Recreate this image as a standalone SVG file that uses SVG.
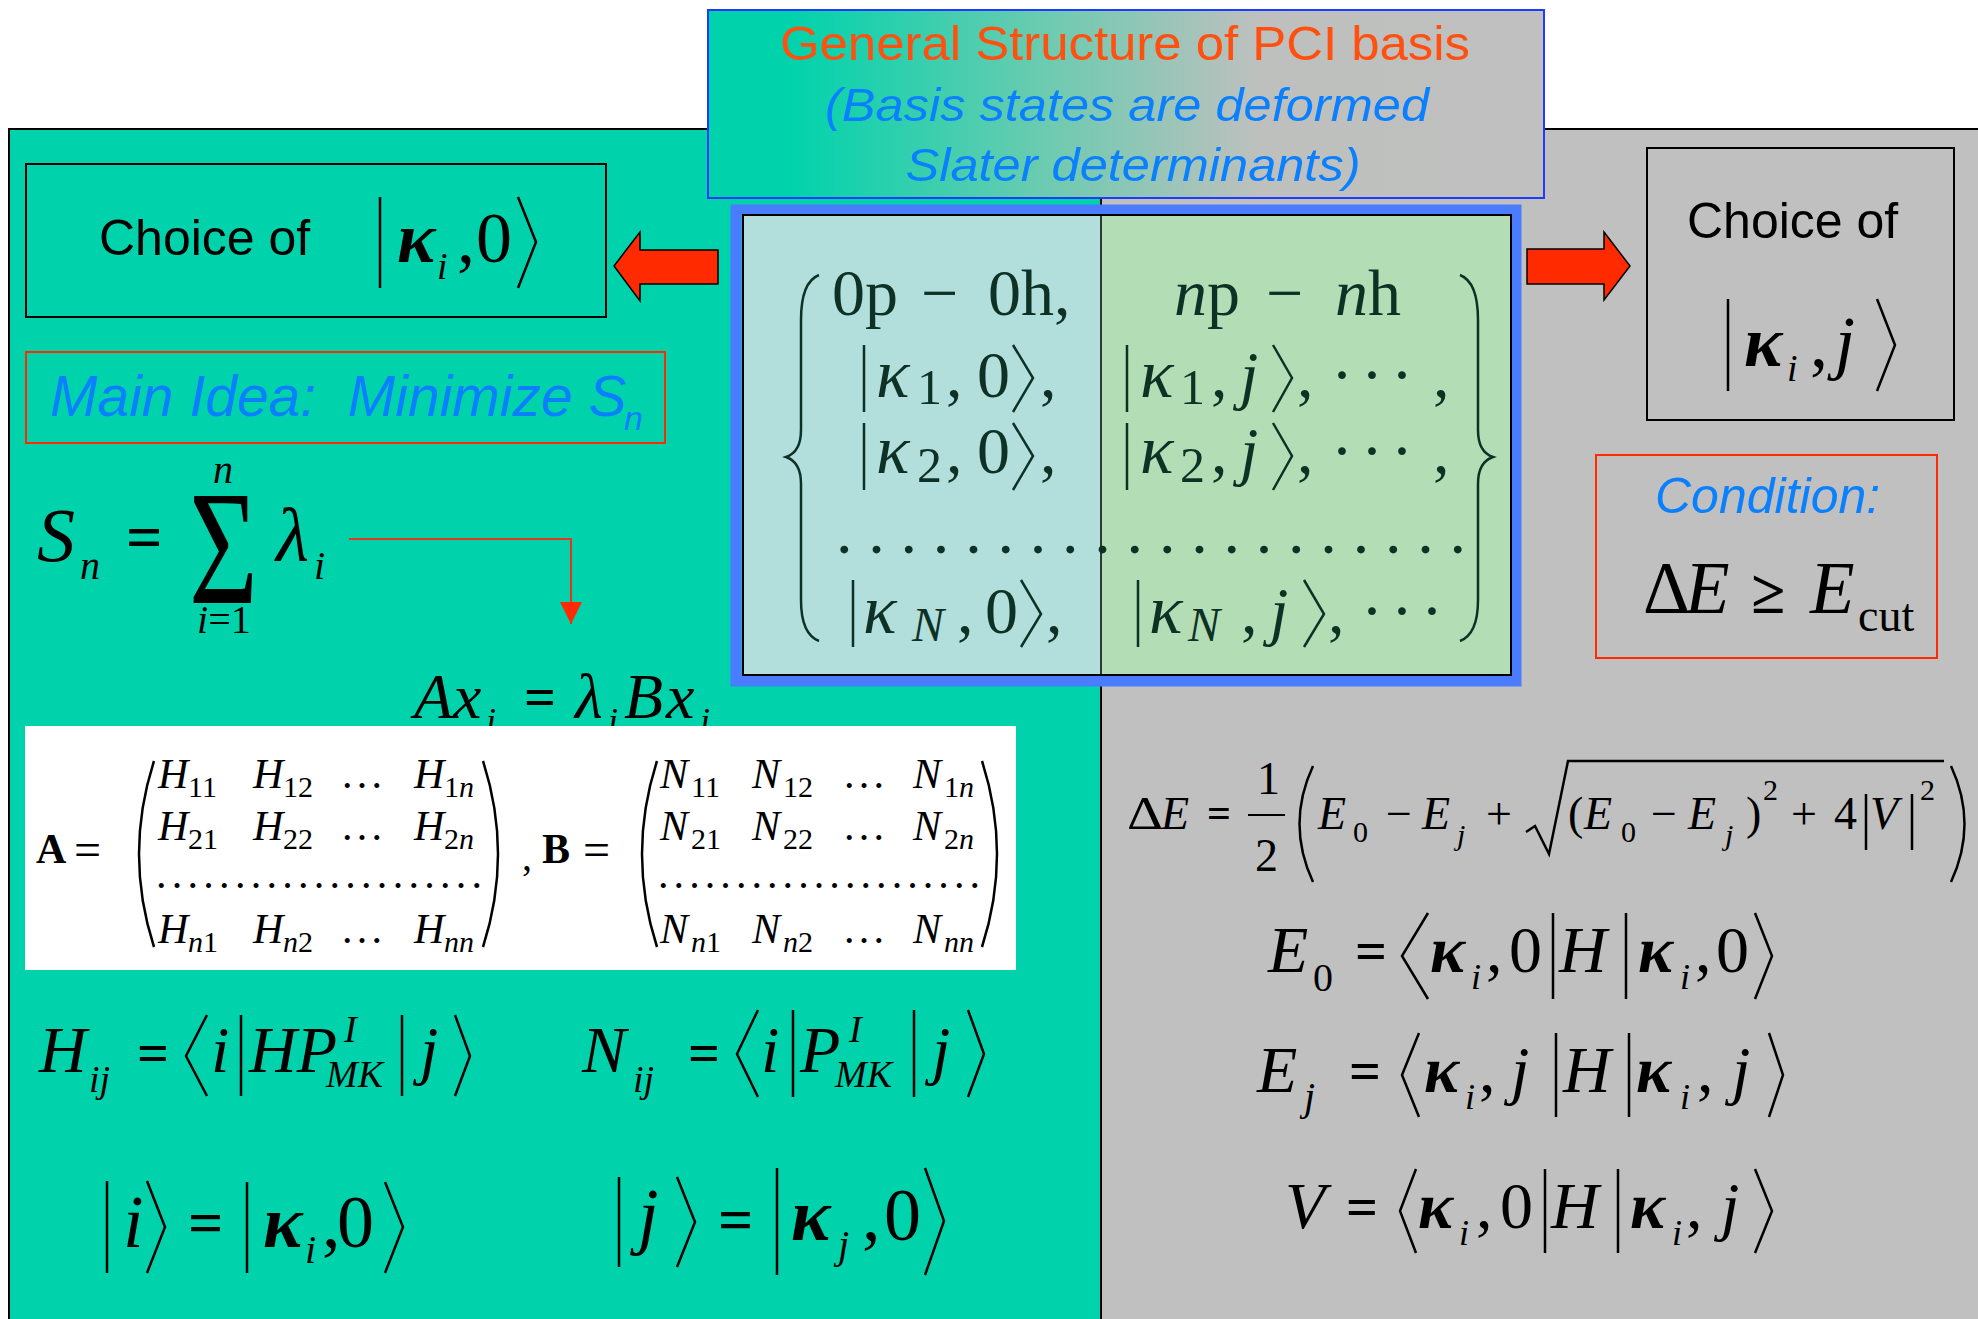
<svg xmlns="http://www.w3.org/2000/svg" width="1978" height="1319" viewBox="0 0 1978 1319">
<defs>
<linearGradient id="tg" x1="0" y1="0" x2="1" y2="0">
<stop offset="0" stop-color="#00D3AC"/>
<stop offset="0.1" stop-color="#00D3AC"/>
<stop offset="0.4" stop-color="#6BCBB0"/>
<stop offset="0.66" stop-color="#BEC0BE"/>
<stop offset="1" stop-color="#BFC0BF"/>
</linearGradient>
<marker id="ah" viewBox="0 0 10 10" refX="10" refY="5" markerWidth="22" markerHeight="22" markerUnits="userSpaceOnUse" orient="auto">
<path d="M0,0 L10,5 L0,10 z" fill="#FF2A00"/>
</marker>
<style>
.sans{font-family:"Liberation Sans",Arial,sans-serif}
.ser{font-family:"Liberation Serif","Times New Roman",serif}
.it{font-style:italic}
.bd{font-weight:bold}
.dl{fill:none;stroke:#000;stroke-width:2.5;stroke-linejoin:miter}
.mt{fill:#0E3125}
.md{fill:none;stroke:#0E3125;stroke-width:2.5}
.box{fill:none;stroke:#000;stroke-width:2}
.rbox{fill:none;stroke:#FF2A00;stroke-width:2}
.ba{fill:#FF2A00;stroke:#000;stroke-width:1.5}
</style>
</defs>

<rect x="0" y="0" width="1978" height="1319" fill="#FFFFFF"/>
<g id="panels">
<rect x="9" y="129" width="1092" height="1190" fill="#00D3AC"/>
<rect x="1101" y="129" width="877" height="1190" fill="#BFC0BF"/>
<path d="M9,1319 V129 H1978 M1101,129 V1319" fill="none" stroke="#000" stroke-width="2"/>
</g>

<g id="title">
<rect x="708" y="10" width="836" height="188" fill="url(#tg)" stroke="#1E3CFF" stroke-width="2"/>
<text class="sans" x="1125" y="60" font-size="49" text-anchor="middle" fill="#FF5010" textLength="690" lengthAdjust="spacingAndGlyphs">General Structure of PCI basis</text>
<text class="sans it" x="1127" y="121" font-size="47" text-anchor="middle" fill="#0A80FF" textLength="604" lengthAdjust="spacingAndGlyphs">(Basis states are deformed</text>
<text class="sans it" x="1133" y="181" font-size="47" text-anchor="middle" fill="#0A80FF" textLength="455" lengthAdjust="spacingAndGlyphs">Slater determinants)</text>
</g>

<g id="basis-set">
<rect x="736" y="210" width="780" height="471" fill="none" stroke="#4A7CFF" stroke-width="11"/>
<rect x="743" y="215" width="358" height="460" fill="#B2DEDC"/>
<rect x="1101" y="215" width="410" height="460" fill="#B3DDB5"/>
<rect x="743" y="215" width="768" height="460" fill="none" stroke="#000" stroke-width="2"/>
<line x1="1101" y1="215" x2="1101" y2="675" stroke="#000" stroke-width="1.5"/>
<path class="md" stroke-width="7" d="M819,275 Q801,282 801,320 L801,430 Q801,452 786,457 Q801,462 801,484 L801,600 Q801,634 819,641"/>
<path class="md" stroke-width="7" d="M1460,275 Q1478,282 1478,320 L1478,430 Q1478,452 1493,457 Q1478,462 1478,484 L1478,600 Q1478,634 1460,641"/>
<g class="ser mt" font-size="66">
<text x="832" y="315">0p</text><text x="921" y="315">−</text><text x="988" y="315">0h,</text>
<text x="1174" y="315"><tspan class="it">n</tspan>p</text><text x="1266" y="315">−</text><text x="1335" y="315"><tspan class="it">n</tspan>h</text>
<text class="it" x="876" y="397" font-size="70">κ</text><text x="917" y="404" font-size="50">1</text><text x="946" y="397">,</text><text x="977" y="397">0</text><text x="1040" y="397">,</text>
<text class="it" x="1140" y="397" font-size="70">κ</text><text x="1180" y="404" font-size="50">1</text><text x="1211" y="397">,</text><text class="it" x="1240" y="397">j</text><text x="1297" y="397">,</text><text x="1331" y="397" letter-spacing="8">···</text><text x="1433" y="397">,</text>
<text class="it" x="876" y="473" font-size="70">κ</text><text x="917" y="482" font-size="50">2</text><text x="946" y="473">,</text><text x="977" y="473">0</text><text x="1040" y="473">,</text>
<text class="it" x="1140" y="473" font-size="70">κ</text><text x="1180" y="482" font-size="50">2</text><text x="1211" y="473">,</text><text class="it" x="1240" y="473">j</text><text x="1297" y="473">,</text><text x="1331" y="473" letter-spacing="8">···</text><text x="1433" y="473">,</text>
<text x="836" y="553" textLength="630" lengthAdjust="spacing">....................</text>
<text class="it" x="863" y="633" font-size="70">κ</text><text class="it" x="912" y="641" font-size="48">N</text><text x="957" y="633">,</text><text x="985" y="633">0</text><text x="1046" y="633">,</text>
<text class="it" x="1149" y="633" font-size="70">κ</text><text class="it" x="1188" y="641" font-size="48">N</text><text x="1241" y="633">,</text><text class="it" x="1270" y="633">j</text><text x="1328" y="633">,</text><text x="1361" y="633" letter-spacing="8">···</text>
</g>
<path class="md" d="M864,345 V412 M1013,345 L1033,378 L1013,412 M1127,345 V412 M1273,345 L1292,378 L1273,412"/>
<path class="md" d="M864,423 V490 M1013,423 L1033,456 L1013,490 M1127,423 V490 M1273,423 L1292,456 L1273,490"/>
<path class="md" d="M853,580 V647 M1021,580 L1041,614 L1021,647 M1138,580 V647 M1304,580 L1324,614 L1304,647"/>
</g>

<g id="choice-k0">
<rect class="box" x="26" y="164" width="580" height="153"/>
<text class="sans" x="99" y="255" font-size="50">Choice of</text>
<line class="dl" x1="380" y1="197" x2="380" y2="288"/>
<text class="ser it bd" x="397" y="262" font-size="72">κ</text>
<text class="ser it" x="437" y="279" font-size="38">i</text>
<text class="ser" x="457" y="262" font-size="72">,</text>
<text class="ser" x="476" y="262" font-size="72">0</text>
<polyline class="dl" points="518,197 536,242 518,288"/>
</g>

<g id="choice-kj">
<rect class="box" x="1647" y="148" width="307" height="272"/>
<text class="sans" x="1687" y="238" font-size="50">Choice of</text>
<line class="dl" x1="1728" y1="299" x2="1728" y2="391"/>
<text class="ser it bd" x="1744" y="366" font-size="72">κ</text>
<text class="ser it" x="1787" y="381" font-size="38">i</text>
<text class="ser" x="1810" y="366" font-size="72">,</text>
<text class="ser it" x="1835" y="366" font-size="72">j</text>
<polyline class="dl" points="1877,299 1895,345 1877,391"/>
</g>

<g id="main-idea">
<rect class="rbox" x="26" y="352" width="639" height="91"/>
<text class="sans it" x="50" y="416" font-size="57" fill="#0A80FF" style="white-space:pre">Main Idea:  Minimize S</text>
<text class="sans it" x="624" y="430" font-size="34" fill="#0A80FF">n</text>
</g>

<g id="condition">
<rect class="rbox" x="1596" y="455" width="341" height="203"/>
<text class="sans it" x="1655" y="513" font-size="50" fill="#0A80FF">Condition:</text>
<text class="ser" x="1643" y="613" font-size="73">Δ</text>
<text class="ser it" x="1685" y="613" font-size="73">E</text>
<text class="ser bd" x="1751" y="613" font-size="62">≥</text>
<text class="ser it" x="1810" y="613" font-size="73">E</text>
<text class="ser" x="1858" y="631" font-size="46">cut</text>
</g>

<g id="sum-eq" class="ser">
<text class="it" x="37" y="561" font-size="76">S</text>
<text class="it" x="80" y="579" font-size="40">n</text>
<text class="bd" x="126" y="559" font-size="64">=</text>
<text transform="translate(189,603) scale(0.74,1.02)" font-size="160">Σ</text>
<text class="it" x="213" y="483" font-size="40">n</text>
<text x="197" y="633" font-size="40"><tspan class="it">i</tspan>=1</text>
<text class="it" x="276" y="561" font-size="76">λ</text>
<text class="it" x="314" y="579" font-size="40">i</text>
</g>

<g id="eigen-eq" class="ser">
<text class="it" x="414" y="718" font-size="64">A</text>
<text class="it" x="453" y="718" font-size="64">x</text>
<text class="it" x="486" y="733" font-size="36">i</text>
<text class="bd" x="524" y="716" font-size="56">=</text>
<text class="it" x="575" y="718" font-size="64">λ</text>
<text class="it" x="608" y="733" font-size="36">i</text>
<text class="it" x="624" y="718" font-size="64">B</text>
<text class="it" x="666" y="718" font-size="64">x</text>
<text class="it" x="700" y="733" font-size="36">i</text>
</g>

<g id="matrices" class="ser">
<rect x="25" y="726" width="991" height="244" fill="#FFFFFF"/>
<text class="bd" x="36" y="863" font-size="42">A</text>
<text x="74" y="866" font-size="48">=</text>
<path class="dl" stroke-width="2.2" d="M154,761 Q124,854 154,947 M483,761 Q513,854 483,947"/>
<g font-size="42">
<text class="it" x="158" y="788">H</text><text x="188" y="797" font-size="30">11</text>
<text class="it" x="253" y="788">H</text><text x="283" y="797" font-size="30">12</text>
<text x="342" y="788" textLength="40" lengthAdjust="spacing">...</text>
<text class="it" x="414" y="788">H</text><text x="444" y="797" font-size="30">1<tspan class="it">n</tspan></text>
<text class="it" x="158" y="840">H</text><text x="188" y="849" font-size="30">21</text>
<text class="it" x="253" y="840">H</text><text x="283" y="849" font-size="30">22</text>
<text x="342" y="840" textLength="40" lengthAdjust="spacing">...</text>
<text class="it" x="414" y="840">H</text><text x="444" y="849" font-size="30">2<tspan class="it">n</tspan></text>
<text x="156" y="888" textLength="326" lengthAdjust="spacing">.....................</text>
<text class="it" x="158" y="943">H</text><text class="it" x="188" y="952" font-size="30">n<tspan font-style="normal">1</tspan></text>
<text class="it" x="253" y="943">H</text><text class="it" x="283" y="952" font-size="30">n<tspan font-style="normal">2</tspan></text>
<text x="342" y="943" textLength="40" lengthAdjust="spacing">...</text>
<text class="it" x="414" y="943">H</text><text class="it" x="444" y="952" font-size="30">nn</text>
</g>
<text x="522" y="870" font-size="40">,</text>
<text class="bd" x="542" y="863" font-size="42">B</text>
<text x="583" y="866" font-size="48">=</text>
<path class="dl" stroke-width="2.2" d="M657,761 Q627,854 657,947 M982,761 Q1012,854 982,947"/>
<g font-size="42">
<text class="it" x="660" y="788">N</text><text x="691" y="797" font-size="30">11</text>
<text class="it" x="752" y="788">N</text><text x="783" y="797" font-size="30">12</text>
<text x="844" y="788" textLength="40" lengthAdjust="spacing">...</text>
<text class="it" x="913" y="788">N</text><text x="944" y="797" font-size="30">1<tspan class="it">n</tspan></text>
<text class="it" x="660" y="840">N</text><text x="691" y="849" font-size="30">21</text>
<text class="it" x="752" y="840">N</text><text x="783" y="849" font-size="30">22</text>
<text x="844" y="840" textLength="40" lengthAdjust="spacing">...</text>
<text class="it" x="913" y="840">N</text><text x="944" y="849" font-size="30">2<tspan class="it">n</tspan></text>
<text x="658" y="888" textLength="322" lengthAdjust="spacing">.....................</text>
<text class="it" x="660" y="943">N</text><text class="it" x="691" y="952" font-size="30">n<tspan font-style="normal">1</tspan></text>
<text class="it" x="752" y="943">N</text><text class="it" x="783" y="952" font-size="30">n<tspan font-style="normal">2</tspan></text>
<text x="844" y="943" textLength="40" lengthAdjust="spacing">...</text>
<text class="it" x="913" y="943">N</text><text class="it" x="944" y="952" font-size="30">nn</text>
</g>
</g>

<g id="hij-eq" class="ser" font-size="66">
<text class="it" x="39" y="1072">H</text><text class="it" x="89" y="1092" font-size="38">ij</text>
<text class="bd" x="137" y="1072" font-size="56">=</text>
<polyline class="dl" points="207,1015 186,1056 207,1096"/>
<text class="it" x="211" y="1072">i</text>
<line class="dl" x1="241" y1="1015" x2="241" y2="1096"/>
<text class="it" x="249" y="1072">HP</text>
<text class="it" x="344" y="1042" font-size="38">I</text>
<text class="it" x="326" y="1087" font-size="38">MK</text>
<line class="dl" x1="402" y1="1015" x2="402" y2="1096"/>
<text class="it" x="420" y="1072">j</text>
<polyline class="dl" points="455,1015 470,1056 455,1096"/>
</g>

<g id="nij-eq" class="ser" font-size="66">
<text class="it" x="582" y="1072">N</text><text class="it" x="633" y="1092" font-size="38">ij</text>
<text class="bd" x="688" y="1072" font-size="56">=</text>
<polyline class="dl" points="758,1010 737,1054 758,1097"/>
<text class="it" x="761" y="1072">i</text>
<line class="dl" x1="793" y1="1010" x2="793" y2="1097"/>
<text class="it" x="800" y="1072">P</text>
<text class="it" x="849" y="1042" font-size="38">I</text>
<text class="it" x="835" y="1087" font-size="38">MK</text>
<line class="dl" x1="914" y1="1010" x2="914" y2="1097"/>
<text class="it" x="932" y="1072">j</text>
<polyline class="dl" points="968,1010 984,1054 968,1097"/>
</g>

<g id="ket-i" class="ser" font-size="74">
<line class="dl" x1="107" y1="1181" x2="107" y2="1273"/>
<text class="it" x="123" y="1247">i</text>
<polyline class="dl" points="147,1181 165,1227 147,1273"/>
<text class="bd" x="188" y="1243" font-size="62">=</text>
<line class="dl" x1="247" y1="1182" x2="247" y2="1273"/>
<text class="it bd" x="263" y="1247">κ</text>
<text class="it" x="305" y="1263" font-size="40">i</text>
<text x="322" y="1247">,</text>
<text x="337" y="1247">0</text>
<polyline class="dl" points="385,1182 403,1227 385,1273"/>
</g>

<g id="ket-j" class="ser" font-size="74">
<line class="dl" x1="619" y1="1177" x2="619" y2="1267"/>
<text class="it" x="638" y="1240">j</text>
<polyline class="dl" points="677,1177 695,1222 677,1267"/>
<text class="bd" x="718" y="1240" font-size="62">=</text>
<line class="dl" x1="777" y1="1168" x2="777" y2="1275"/>
<text class="it bd" x="791" y="1240">κ</text>
<text class="it" x="838" y="1258" font-size="40">j</text>
<text x="862" y="1240">,</text>
<text x="884" y="1240">0</text>
<polyline class="dl" points="925,1168 944,1221 925,1275"/>
</g>

<g id="delta-e-eq" class="ser" font-size="46">
<text x="1127" y="829" textLength="36" lengthAdjust="spacingAndGlyphs">Δ</text><text class="it" x="1161" y="829">E</text>
<text class="bd" x="1207" y="827" font-size="42">=</text>
<text x="1257" y="794">1</text>
<line x1="1248" y1="815" x2="1285" y2="815" stroke="#000" stroke-width="2"/>
<text x="1255" y="871">2</text>
<path class="dl" stroke-width="2" d="M1313,766 Q1286,824 1313,882 M1951,766 Q1978,824 1951,882"/>
<text class="it" x="1318" y="829">E</text><text x="1353" y="842" font-size="30">0</text>
<text x="1386" y="829">−</text>
<text class="it" x="1422" y="829">E</text><text class="it" x="1457" y="845" font-size="30">j</text>
<text x="1486" y="829">+</text>
<polyline class="dl" stroke-width="2.5" points="1526,832 1535,826 1549,854 1568,761 1944,761"/>
<text x="1568" y="829">(</text>
<text class="it" x="1584" y="829">E</text><text x="1621" y="842" font-size="30">0</text>
<text x="1651" y="829">−</text>
<text class="it" x="1688" y="829">E</text><text class="it" x="1725" y="845" font-size="30">j</text>
<text x="1746" y="829">)</text>
<text x="1763" y="800" font-size="30">2</text>
<text x="1791" y="829">+</text>
<text x="1834" y="829">4</text>
<line class="dl" stroke-width="2" x1="1866" y1="794" x2="1866" y2="850"/>
<text class="it" x="1870" y="829">V</text>
<line class="dl" stroke-width="2" x1="1912" y1="794" x2="1912" y2="850"/>
<text x="1920" y="800" font-size="30">2</text>
</g>

<g id="e0-eq" class="ser" font-size="66">
<text class="it" x="1268" y="972">E</text><text x="1313" y="991" font-size="40">0</text>
<text class="bd" x="1355" y="970" font-size="56">=</text>
<polyline class="dl" points="1428,913 1402,956 1428,999"/>
<text class="it bd" x="1430" y="972">κ</text><text class="it" x="1471" y="989" font-size="36">i</text>
<text x="1486" y="972">,</text><text x="1509" y="972">0</text>
<line class="dl" x1="1553" y1="913" x2="1553" y2="999"/>
<text class="it" x="1559" y="972">H</text>
<line class="dl" x1="1626" y1="913" x2="1626" y2="999"/>
<text class="it bd" x="1638" y="972">κ</text><text class="it" x="1680" y="989" font-size="36">i</text>
<text x="1695" y="972">,</text><text x="1716" y="972">0</text>
<polyline class="dl" points="1755,913 1772,956 1755,999"/>
</g>

<g id="ej-eq" class="ser" font-size="66">
<text class="it" x="1257" y="1092">E</text><text class="it" x="1304" y="1110" font-size="40">j</text>
<text class="bd" x="1349" y="1090" font-size="56">=</text>
<polyline class="dl" points="1419,1033 1402,1075 1419,1117"/>
<text class="it bd" x="1424" y="1092">κ</text><text class="it" x="1465" y="1109" font-size="36">i</text>
<text x="1479" y="1092">,</text><text class="it" x="1511" y="1092">j</text>
<line class="dl" x1="1556" y1="1033" x2="1556" y2="1117"/>
<text class="it" x="1563" y="1092">H</text>
<line class="dl" x1="1629" y1="1033" x2="1629" y2="1117"/>
<text class="it bd" x="1636" y="1092">κ</text><text class="it" x="1680" y="1109" font-size="36">i</text>
<text x="1697" y="1092">,</text><text class="it" x="1732" y="1092">j</text>
<polyline class="dl" points="1769,1033 1783,1075 1769,1117"/>
</g>

<g id="v-eq" class="ser" font-size="66">
<text class="it" x="1285" y="1228">V</text>
<text class="bd" x="1346" y="1226" font-size="56">=</text>
<polyline class="dl" points="1416,1169 1400,1211 1416,1253"/>
<text class="it bd" x="1418" y="1228">κ</text><text class="it" x="1459" y="1245" font-size="36">i</text>
<text x="1476" y="1228">,</text><text x="1500" y="1228">0</text>
<line class="dl" x1="1545" y1="1169" x2="1545" y2="1253"/>
<text class="it" x="1551" y="1228">H</text>
<line class="dl" x1="1618" y1="1169" x2="1618" y2="1253"/>
<text class="it bd" x="1630" y="1228">κ</text><text class="it" x="1672" y="1245" font-size="36">i</text>
<text x="1686" y="1228">,</text><text class="it" x="1721" y="1228">j</text>
<polyline class="dl" points="1755,1169 1772,1211 1755,1253"/>
</g>

<g id="connectors">
<polygon class="ba" points="718,250 640,250 640,232 614,266 640,301 640,284 718,284"/>
<polygon class="ba" points="1527,249 1604,249 1604,232 1630,266 1604,300 1604,284 1527,284"/>
<path d="M349,539 H571 V624" fill="none" stroke="#E8341C" stroke-width="2" marker-end="url(#ah)"/>
</g>
</svg>
